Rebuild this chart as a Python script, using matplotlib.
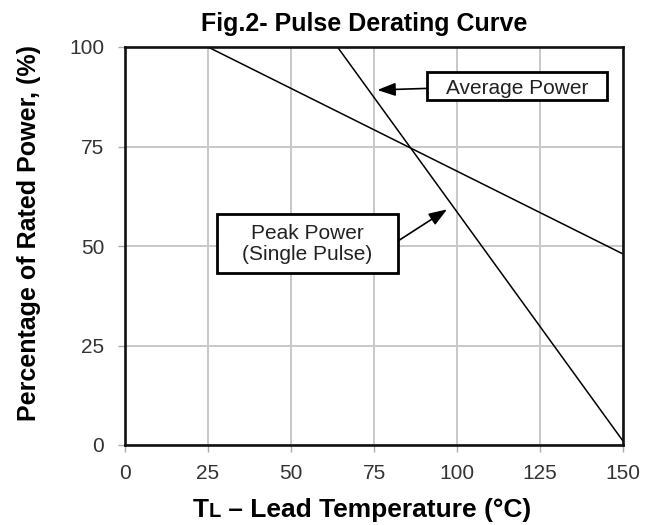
import matplotlib
matplotlib.use("Agg")
import matplotlib.pyplot as plt
from matplotlib.patches import Rectangle

plt.rcParams["font.family"] = ["Liberation Sans", "DejaVu Sans"]

# data
peak_x = [25, 150]
peak_y = [100, 48]
avg_x = [64, 150]
avg_y = [100, 1]
xticks = [0, 25, 50, 75, 100, 125, 150]
yticks = [0, 25, 50, 75, 100]

avg_label = "Average Power"
avg_box = (91, 86.6, 54.2, 7.1)        # x, y, w, h in data units
avg_arrow_tail = (91, 89.6)
avg_arrow_tip = (76, 89.2)
peak_label = "Peak Power\n(Single Pulse)"
peak_box = (27.6, 43.1, 54.7, 14.9)
peak_arrow_tail = (82.3, 51.3)
peak_arrow_tip = (97, 59.2)

fig = plt.figure(figsize=(6.54, 5.25), dpi=100)
ax = fig.add_axes([125 / 654, 80 / 525, 498 / 654, 398 / 525])

ax.plot(peak_x, peak_y, color="black", lw=1.1, solid_capstyle="butt", zorder=3)
ax.plot(avg_x, avg_y, color="black", lw=1.1, solid_capstyle="butt", zorder=3)

ax.set_xlim(0, 150)
ax.set_ylim(0, 100)
ax.set_xticks(xticks)
ax.set_yticks(yticks)
ax.grid(color="#c8c8c8", lw=1.4)
ax.set_axisbelow(True)
for s in ax.spines.values():
    s.set_linewidth(1.9)
    s.set_color("#111111")
    s.set_zorder(6)
ax.tick_params(colors="#aaaaaa", labelcolor="#333333", labelsize=15,
               length=5, width=1)
ax.tick_params(axis="x", pad=9)
ax.tick_params(axis="y", pad=10)

arrow_kw = dict(arrowstyle="-|>,head_length=0.55,head_width=0.2", color="black",
                lw=1.2, mutation_scale=20, shrinkA=0, shrinkB=0)

# average power box and arrow
ax.annotate("", xy=avg_arrow_tip, xytext=avg_arrow_tail, arrowprops=arrow_kw,
            zorder=4)
bx, by, bw, bh = avg_box
ax.add_patch(Rectangle((bx, by), bw, bh, fc="white", ec="black", lw=2, zorder=5))
ax.text(bx + bw / 2, by + bh / 2, avg_label, ha="center", va="center_baseline",
        fontsize=15, color="#222222", zorder=6)

# peak power box and arrow
ax.annotate("", xy=peak_arrow_tip, xytext=peak_arrow_tail, arrowprops=arrow_kw,
            zorder=4)
bx, by, bw, bh = peak_box
ax.add_patch(Rectangle((bx, by), bw, bh, fc="white", ec="black", lw=2, zorder=5))
ax.text(bx + bw / 2, by + bh / 2, peak_label, ha="center", va="center",
        fontsize=15, color="#222222", linespacing=1.1, zorder=6)

fig.text(364 / 654, 1 - 31 / 525, "Fig.2- Pulse Derating Curve", ha="center",
         va="baseline", fontsize=18, fontweight="bold")
fig.text(29 / 654, 1 - 233 / 525, "Percentage of Rated Power, (%)", ha="center",
         va="center", rotation=90, fontsize=18, fontweight="bold")

# x label with small "L"
base_y = 1 - 517 / 525
t1 = fig.text(193 / 654, base_y, "T", ha="left", va="baseline",
              fontsize=19, fontweight="bold")
t2 = fig.text(0, base_y, "L", ha="left", va="baseline", fontsize=14.5,
              fontweight="bold")
t3 = fig.text(0, base_y, " – Lead Temperature (°C)", ha="left", va="baseline",
              fontsize=19, fontweight="bold")
fig.canvas.draw()
r = fig.canvas.get_renderer()
b1 = t1.get_window_extent(r)
t2.set_x(b1.x1 / fig.bbox.width)
b2 = t2.get_window_extent(r)
t3.set_x(b2.x1 / fig.bbox.width)

fig.savefig("out.png", dpi=100)
